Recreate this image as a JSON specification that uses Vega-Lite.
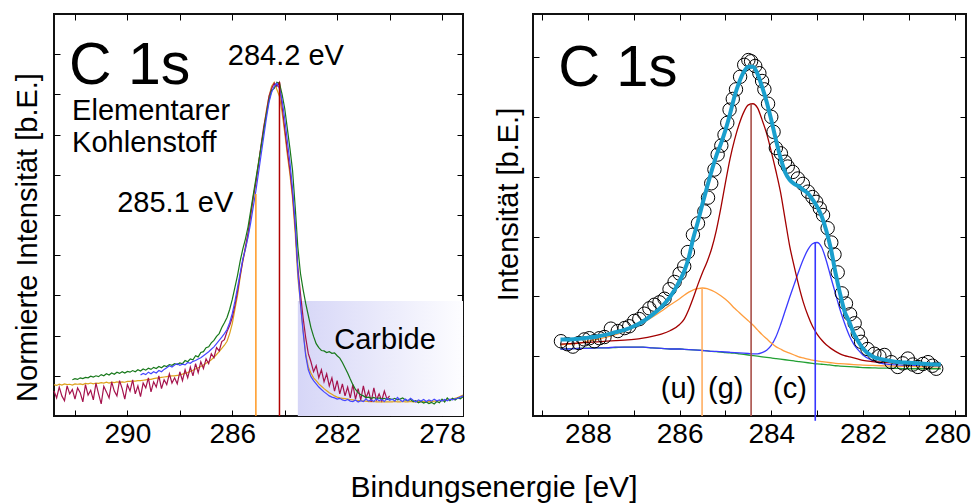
{
"$schema": "https://vega.github.io/schema/vega-lite/v6.json",
"padding": {"left": 12, "top": 12, "right": 0, "bottom": 0},
"title": {"text": "Bindungsenergie [eV]", "orient": "bottom", "anchor": "middle", "fontSize": 30, "fontWeight": "normal", "font": "Liberation Sans", "color": "#000", "offset": 24, "dx": 2},
"config": {
  "font": "Liberation Sans",
  "view": {"stroke": "#111", "strokeWidth": 2},
  "axis": {"domain": false, "grid": false, "tickColor": "#000", "tickSize": -6, "tickWidth": 1, "labelFontSize": 28, "labelColor": "#000", "labelFont": "Liberation Sans", "titleFontSize": 29, "titleFont": "Liberation Sans", "titleFontWeight": "normal", "titleColor": "#000", "labelPadding": 10, "labelFlush": false}
},
"spacing": 26,
"resolve": {"scale": {"color": "independent"}},
"hconcat": [
{
  "width": 409, "height": 402,
  "resolve": {"axis": {"x": "independent", "y": "independent"}},
  "layer": [
    {
      "data": {"values": [{"a": 283.5, "b": 277.2, "lo": 0, "hi": 2.86}]},
      "mark": {"type": "rect", "fill": {"gradient": "linear", "x1": 0, "y1": 0, "x2": 1, "y2": 0, "stops": [{"offset": 0, "color": "#d6d6f7"}, {"offset": 1, "color": "#fdfdff"}]}},
      "encoding": {
        "x": {"field": "a", "type": "quantitative", "scale": {"domain": [292.8, 277.2], "nice": false, "zero": false}, "axis": {"orient": "top", "values": [292, 290, 288, 286, 284, 282, 280, 278], "labels": false, "title": null}},
        "x2": {"field": "b"},
        "y": {"field": "lo", "type": "quantitative", "scale": {"domain": [0, 10], "nice": false}, "axis": {"orient": "right", "values": [1, 2, 3, 4, 5, 6, 7, 8, 9], "labels": false, "title": null}},
        "y2": {"field": "hi"}
      }
    },
    {
      "data": {"values": [
{"e":292.8,"Y":0.78,"R":0.62},{"e":292.7,"Y":0.76,"R":0.45},{"e":292.6,"Y":0.79,"R":0.72},{"e":292.5,"Y":0.77,"R":0.50},{"e":292.4,"Y":0.80,"R":0.38},{"e":292.3,"Y":0.78,"R":0.75},{"e":292.2,"Y":0.79,"R":0.55},
{"e":292.1,"Y":0.77,"R":0.66,"G":0.90},{"e":292.0,"Y":0.80,"R":0.42,"G":0.93},{"e":291.9,"Y":0.79,"R":0.70,"G":0.91},{"e":291.8,"Y":0.80,"R":0.58,"G":0.95},{"e":291.7,"Y":0.78,"R":0.35,"G":0.93},{"e":291.6,"Y":0.81,"R":0.78,"G":0.96},{"e":291.5,"Y":0.80,"R":0.52,"G":0.95},{"e":291.4,"Y":0.82,"R":0.64,"G":0.99},{"e":291.3,"Y":0.80,"R":0.40,"G":0.97},{"e":291.2,"Y":0.82,"R":0.82,"G":1.0},{"e":291.1,"Y":0.81,"R":0.55,"G":0.98},{"e":291.0,"Y":0.83,"R":0.30,"G":1.03},
{"e":290.9,"Y":0.82,"R":0.74,"G":1.0},{"e":290.8,"Y":0.84,"R":0.60,"G":1.05},{"e":290.7,"Y":0.82,"R":0.45,"G":1.02},{"e":290.6,"Y":0.84,"R":0.85,"G":1.07},{"e":290.5,"Y":0.83,"R":0.62,"G":1.04},{"e":290.4,"Y":0.85,"R":0.50,"G":1.09},{"e":290.3,"Y":0.84,"R":0.88,"G":1.06},{"e":290.2,"Y":0.85,"R":0.68,"G":1.1},{"e":290.1,"Y":0.84,"R":0.42,"G":1.07},{"e":290.0,"Y":0.86,"R":0.78,"G":1.11},
{"e":289.9,"Y":0.86,"R":0.62,"G":1.09},{"e":289.8,"Y":0.87,"R":0.90,"G":1.13},{"e":289.7,"Y":0.87,"R":0.55,"G":1.1},{"e":289.6,"Y":0.88,"R":0.75,"G":1.15},{"e":289.5,"Y":0.88,"R":0.48,"G":1.12,"B":1.02},{"e":289.4,"Y":0.89,"R":0.82,"G":1.17,"B":1.06},{"e":289.3,"Y":0.90,"R":0.70,"G":1.14,"B":1.03},{"e":289.2,"Y":0.91,"R":0.95,"G":1.19,"B":1.09},{"e":289.1,"Y":0.91,"R":0.60,"G":1.16,"B":1.05},{"e":289.0,"Y":0.93,"R":0.85,"G":1.21,"B":1.1},
{"e":288.9,"Y":0.94,"R":0.72,"G":1.18,"B":1.07},{"e":288.8,"Y":0.95,"R":1.0,"G":1.23,"B":1.13},{"e":288.7,"Y":0.96,"R":0.68,"G":1.2,"B":1.1},{"e":288.6,"Y":0.97,"R":0.90,"G":1.25,"B":1.16},{"e":288.5,"Y":0.98,"R":0.78,"G":1.23,"B":1.2},{"e":288.4,"Y":0.99,"R":1.05,"G":1.28,"B":1.25},{"e":288.3,"Y":1.0,"R":0.82,"G":1.26,"B":1.22},{"e":288.2,"Y":1.0,"R":0.95,"G":1.3,"B":1.27},{"e":288.1,"Y":1.01,"R":0.80,"G":1.28,"B":1.3},
{"e":288.0,"Y":1.02,"R":1.10,"G":1.32,"B":1.26},{"e":287.9,"Y":1.04,"R":0.88,"G":1.30,"B":1.29},{"e":287.8,"Y":1.06,"R":1.15,"G":1.38,"B":1.27},{"e":287.7,"Y":1.08,"R":0.95,"G":1.35,"B":1.33},{"e":287.6,"Y":1.11,"R":1.22,"G":1.42,"B":1.31},{"e":287.5,"Y":1.14,"R":1.0,"G":1.40,"B":1.36},{"e":287.4,"Y":1.17,"R":1.3,"G":1.5,"B":1.38},{"e":287.3,"Y":1.20,"R":1.08,"G":1.47,"B":1.42},{"e":287.2,"Y":1.23,"R":1.35,"G":1.58,"B":1.45},{"e":287.1,"Y":1.27,"R":1.18,"G":1.6,"B":1.5},
{"e":287.0,"Y":1.31,"R":1.42,"G":1.7,"B":1.55},{"e":286.9,"Y":1.35,"R":1.3,"G":1.72,"B":1.6},{"e":286.8,"Y":1.40,"R":1.55,"G":1.82,"B":1.66},{"e":286.7,"Y":1.46,"R":1.45,"G":1.88,"B":1.72},{"e":286.6,"Y":1.53,"R":1.7,"G":1.98,"B":1.8},{"e":286.5,"Y":1.60,"R":1.62,"G":2.05,"B":1.88},{"e":286.4,"Y":1.68,"R":1.85,"G":2.2,"B":1.96},{"e":286.3,"Y":1.76,"R":1.9,"G":2.32,"B":2.05},{"e":286.2,"Y":1.86,"R":2.1,"G":2.45,"B":2.15},{"e":286.1,"Y":2.05,"R":2.25,"G":2.65,"B":2.32},
{"e":286.0,"Y":2.3,"R":2.45,"G":2.9,"B":2.55},{"e":285.9,"Y":2.65,"R":2.75,"G":3.2,"B":2.85},{"e":285.8,"Y":3.0,"R":3.1,"G":3.5,"B":3.2},{"e":285.7,"Y":3.45,"R":3.5,"G":3.85,"B":3.55},{"e":285.6,"Y":3.85,"R":3.85,"G":4.15,"B":3.9},{"e":285.5,"Y":4.15,"R":4.2,"G":4.4,"B":4.15},{"e":285.4,"Y":4.48,"R":4.55,"G":4.7,"B":4.45},{"e":285.3,"Y":4.95,"R":5.0,"G":5.1,"B":4.8},{"e":285.2,"Y":5.4,"R":5.45,"G":5.5,"B":5.2},{"e":285.1,"Y":5.85,"R":5.8,"G":5.9,"B":5.6},
{"e":285.0,"Y":6.3,"R":6.25,"G":6.3,"B":6.05},{"e":284.9,"Y":6.7,"R":6.75,"G":6.7,"B":6.5},{"e":284.8,"Y":7.15,"R":7.2,"G":7.1,"B":6.95},{"e":284.7,"Y":7.6,"R":7.55,"G":7.5,"B":7.4},{"e":284.6,"Y":7.95,"R":7.95,"G":7.85,"B":7.8},{"e":284.5,"Y":8.2,"R":8.15,"G":8.1,"B":8.05},{"e":284.4,"Y":8.3,"R":8.28,"G":8.15,"B":8.2},{"e":284.3,"Y":8.12,"R":8.2,"G":8.3,"B":8.28},{"e":284.2,"Y":7.95,"R":8.3,"G":8.28,"B":8.15},{"e":284.1,"Y":7.55,"R":7.7,"G":8.0,"B":7.85},
{"e":284.0,"Y":7.05,"R":7.15,"G":7.65,"B":7.4},{"e":283.9,"Y":6.5,"R":6.6,"G":7.15,"B":6.85},{"e":283.8,"Y":6.0,"R":6.1,"G":6.65,"B":6.3},{"e":283.7,"Y":5.4,"R":5.5,"G":6.1,"B":5.65},{"e":283.6,"Y":4.55,"R":4.7,"G":5.2,"B":4.8},{"e":283.5,"Y":3.45,"R":3.7,"G":4.2,"B":3.6},{"e":283.4,"Y":2.8,"R":3.05,"G":3.55,"B":2.8},{"e":283.3,"Y":2.15,"R":2.45,"G":3.15,"B":2.1},{"e":283.2,"Y":1.55,"R":1.95,"G":2.8,"B":1.5},{"e":283.1,"Y":1.22,"R":1.55,"G":2.5,"B":1.15},
{"e":283.0,"Y":1.07,"R":1.35,"G":2.2,"B":0.98},{"e":282.9,"Y":0.95,"R":1.1,"G":1.98,"B":0.88},{"e":282.8,"Y":0.88,"R":1.25,"G":1.8,"B":0.8},{"e":282.7,"Y":0.8,"R":0.95,"G":1.7,"B":0.72},{"e":282.6,"Y":0.74,"R":1.15,"G":1.63,"B":0.66},{"e":282.5,"Y":0.68,"R":0.85,"G":1.62,"B":0.6},{"e":282.4,"Y":0.63,"R":1.05,"G":1.58,"B":0.55},{"e":282.3,"Y":0.58,"R":0.75,"G":1.6,"B":0.5},{"e":282.2,"Y":0.54,"R":0.95,"G":1.56,"B":0.47},{"e":282.1,"Y":0.5,"R":0.62,"G":1.57,"B":0.45},
{"e":282.0,"Y":0.47,"R":0.88,"G":1.5,"B":0.42},{"e":281.9,"Y":0.45,"R":0.55,"G":1.44,"B":0.44},{"e":281.8,"Y":0.44,"R":0.8,"G":1.33,"B":0.4},{"e":281.7,"Y":0.43,"R":0.5,"G":1.2,"B":0.38},{"e":281.6,"Y":0.42,"R":0.72,"G":1.07,"B":0.41},{"e":281.5,"Y":0.41,"R":0.45,"G":0.92,"B":0.37},{"e":281.4,"Y":0.4,"R":0.78,"G":0.78,"B":0.36},{"e":281.3,"Y":0.39,"R":0.42,"G":0.66,"B":0.4},{"e":281.2,"Y":0.38,"R":0.68,"G":0.58,"B":0.35},{"e":281.1,"Y":0.38,"R":0.4,"G":0.53,"B":0.38},
{"e":281.0,"Y":0.37,"R":0.75,"G":0.5,"B":0.36},{"e":280.9,"Y":0.37,"R":0.45,"G":0.46,"B":0.42},{"e":280.8,"Y":0.36,"R":0.62,"G":0.47,"B":0.37},{"e":280.7,"Y":0.36,"R":0.35,"G":0.44,"B":0.4},{"e":280.6,"Y":0.36,"R":0.7,"G":0.46,"B":0.36},{"e":280.5,"Y":0.35,"R":0.4,"G":0.43,"B":0.43},{"e":280.4,"Y":0.35,"R":0.55,"G":0.45,"B":0.38},{"e":280.3,"Y":0.35,"R":0.38,"G":0.42,"B":0.41},{"e":280.2,"Y":0.35,"R":0.62,"G":0.44,"B":0.36},{"e":280.1,"Y":0.35,"R":0.42,"G":0.41,"B":0.44},
{"e":280.0,"Y":0.35,"R":0.5,"G":0.43,"B":0.39},{"e":279.9,"Y":0.35,"G":0.41,"B":0.42},{"e":279.8,"Y":0.36,"G":0.44,"B":0.37},{"e":279.7,"Y":0.35,"G":0.4,"B":0.46},{"e":279.6,"Y":0.35,"G":0.42,"B":0.4},{"e":279.5,"Y":0.36,"G":0.45,"B":0.36},{"e":279.4,"Y":0.35,"G":0.4,"B":0.42},{"e":279.3,"Y":0.35,"G":0.38,"B":0.38},{"e":279.2,"Y":0.36,"G":0.41,"B":0.44},{"e":279.1,"Y":0.35,"G":0.36,"B":0.39},
{"e":279.0,"Y":0.35,"G":0.38,"B":0.35},{"e":278.9,"Y":0.36,"G":0.33,"B":0.4},{"e":278.8,"Y":0.35,"G":0.36,"B":0.37},{"e":278.7,"Y":0.36,"G":0.32,"B":0.41},{"e":278.6,"Y":0.35,"G":0.35,"B":0.36},{"e":278.5,"Y":0.36,"G":0.31,"B":0.4},{"e":278.4,"Y":0.36,"G":0.34,"B":0.37},{"e":278.3,"Y":0.37,"G":0.3,"B":0.42},{"e":278.2,"Y":0.37,"G":0.36,"B":0.38},{"e":278.1,"Y":0.38,"G":0.33,"B":0.4},
{"e":278.0,"Y":0.38,"G":0.42,"B":0.37},{"e":277.9,"Y":0.39,"G":0.35,"B":0.41},{"e":277.8,"Y":0.4,"G":0.45,"B":0.38},{"e":277.7,"Y":0.41,"G":0.38,"B":0.42},{"e":277.6,"Y":0.42,"G":0.44,"B":0.4},{"e":277.5,"Y":0.44,"G":0.4,"B":0.43},{"e":277.4,"Y":0.46,"G":0.45,"B":0.44},{"e":277.3,"Y":0.49,"G":0.43,"B":0.47},{"e":277.2,"Y":0.52,"G":0.48,"B":0.5}
      ]},
      "transform": [{"fold": ["B", "G", "Y", "R"], "as": ["s", "v"]}, {"filter": "isValid(datum.v)"}],
      "mark": {"type": "line", "strokeWidth": 1.2},
      "encoding": {
        "x": {"field": "e", "type": "quantitative", "axis": null},
        "y": {"field": "v", "type": "quantitative", "axis": null},
        "color": {"field": "s", "type": "nominal", "scale": {"domain": ["B", "G", "Y", "R", "v1", "v2"], "range": ["#4646ff", "#17781a", "#dda11c", "#a5124c", "#ff9922", "#b00000"]}, "legend": null},
        "order": {"field": "e", "type": "quantitative"}
      }
    },
    {
      "data": {"values": [{"e": 285.1, "lo": 0, "top": 5.52, "k": "v1"}, {"e": 284.2, "lo": 0, "top": 8.3, "k": "v2"}]},
      "mark": {"type": "rule", "strokeWidth": 1.5},
      "encoding": {
        "x": {"field": "e", "type": "quantitative", "axis": {"orient": "bottom", "values": [292, 290, 288, 286, 284, 282, 280, 278], "labelExpr": "datum.value % 4 == 2 ? datum.label : ''", "title": null}},
        "y": {"field": "lo", "type": "quantitative", "axis": {"orient": "left", "values": [1, 2, 3, 4, 5, 6, 7, 8, 9], "labels": false, "title": "Normierte Intensität [b.E.]", "titlePadding": 11, "titleY": 223}},
        "y2": {"field": "top"},
        "color": {"field": "k", "type": "nominal", "scale": {"domain": ["B", "G", "Y", "R", "v1", "v2"], "range": ["#4646ff", "#17781a", "#dda11c", "#a5124c", "#ff9922", "#b00000"]}, "legend": null}
      }
    },
    {
      "data": {"values": [{"x": 292.23, "y": 8.26, "t": "C 1s"}]},
      "mark": {"type": "text", "fontSize": 59, "align": "left", "baseline": "alphabetic", "color": "#000"},
      "encoding": {"x": {"field": "x", "type": "quantitative", "axis": null}, "y": {"field": "y", "type": "quantitative", "axis": null}, "text": {"field": "t"}}
    },
    {
      "data": {"values": [
        {"x": 286.17, "y": 8.73, "t": "284.2 eV"},
        {"x": 292.11, "y": 7.37, "t": "Elementarer"},
        {"x": 292.11, "y": 6.57, "t": "Kohlenstoff"},
        {"x": 290.39, "y": 5.07, "t": "285.1 eV"},
        {"x": 282.11, "y": 1.67, "t": "Carbide"}
      ]},
      "mark": {"type": "text", "fontSize": 29, "align": "left", "baseline": "alphabetic", "color": "#000"},
      "encoding": {"x": {"field": "x", "type": "quantitative", "axis": null}, "y": {"field": "y", "type": "quantitative", "axis": null}, "text": {"field": "t"}}
    }
  ]
},
{
  "width": 433, "height": 402,
  "resolve": {"axis": {"x": "independent", "y": "independent"}},
  "layer": [
    {
      "data": {"values": [
{"e":288.6,"bg":1.12,"c":1.12,"u":1.19,"g":1.2},{"e":288.4,"bg":1.125,"c":1.12,"u":1.2,"g":1.21},{"e":288.2,"bg":1.13,"c":1.13,"u":1.22,"g":1.22},{"e":288.0,"bg":1.135,"c":1.13,"u":1.25,"g":1.23},{"e":287.8,"bg":1.14,"c":1.14,"u":1.28,"g":1.24},{"e":287.6,"bg":1.14,"c":1.14,"u":1.32,"g":1.25},{"e":287.4,"bg":1.145,"c":1.15,"u":1.36,"g":1.26},{"e":287.2,"bg":1.15,"c":1.15,"u":1.42,"g":1.27},{"e":287.0,"bg":1.15,"c":1.15,"u":1.48,"g":1.28},{"e":286.8,"bg":1.15,"c":1.15,"u":1.56,"g":1.3},{"e":286.6,"bg":1.14,"c":1.14,"u":1.65,"g":1.33},{"e":286.4,"bg":1.13,"c":1.13,"u":1.75,"g":1.37},{"e":286.2,"bg":1.12,"c":1.12,"u":1.86,"g":1.43},
{"e":286.0,"bg":1.12,"c":1.12,"u":1.96,"g":1.53},{"e":285.9,"bg":1.115,"c":1.115,"u":2.02,"g":1.62},{"e":285.8,"bg":1.11,"c":1.11,"u":2.07,"g":1.78},{"e":285.7,"bg":1.105,"c":1.105,"u":2.11,"g":1.98},{"e":285.6,"bg":1.1,"c":1.1,"u":2.13,"g":2.2},{"e":285.5,"bg":1.095,"c":1.095,"u":2.14,"g":2.4},{"e":285.4,"bg":1.09,"c":1.09,"u":2.13,"g":2.58},{"e":285.3,"bg":1.08,"c":1.08,"u":2.1,"g":2.8},{"e":285.2,"bg":1.075,"c":1.08,"u":2.06,"g":3.1},{"e":285.1,"bg":1.07,"c":1.075,"u":2.01,"g":3.48},
{"e":285.0,"bg":1.06,"c":1.07,"u":1.95,"g":3.9},{"e":284.9,"bg":1.055,"c":1.065,"u":1.88,"g":4.3},{"e":284.8,"bg":1.05,"c":1.06,"u":1.8,"g":4.62},{"e":284.7,"bg":1.04,"c":1.055,"u":1.73,"g":4.88},{"e":284.6,"bg":1.03,"c":1.05,"u":1.66,"g":5.08},{"e":284.5,"bg":1.02,"c":1.045,"u":1.59,"g":5.2},{"e":284.4,"bg":1.01,"c":1.04,"u":1.52,"g":5.22},{"e":284.3,"bg":1.0,"c":1.04,"u":1.44,"g":5.15},{"e":284.2,"bg":0.99,"c":1.06,"u":1.36,"g":4.95},{"e":284.1,"bg":0.98,"c":1.1,"u":1.29,"g":4.72},
{"e":284.0,"bg":0.97,"c":1.18,"u":1.22,"g":4.42},{"e":283.9,"bg":0.96,"c":1.32,"u":1.16,"g":4.1},{"e":283.8,"bg":0.95,"c":1.52,"u":1.12,"g":3.75},{"e":283.7,"bg":0.94,"c":1.75,"u":1.08,"g":3.3},{"e":283.6,"bg":0.93,"c":1.98,"u":1.05,"g":2.85},{"e":283.5,"bg":0.92,"c":2.2,"u":1.02,"g":2.5},{"e":283.4,"bg":0.91,"c":2.42,"u":0.99,"g":2.18},{"e":283.3,"bg":0.9,"c":2.62,"u":0.97,"g":1.9},{"e":283.2,"bg":0.89,"c":2.78,"u":0.95,"g":1.68},{"e":283.1,"bg":0.88,"c":2.88,"u":0.935,"g":1.5},
{"e":283.0,"bg":0.87,"c":2.9,"u":0.92,"g":1.37},{"e":282.9,"bg":0.865,"c":2.82,"u":0.91,"g":1.27},{"e":282.8,"bg":0.86,"c":2.6,"u":0.9,"g":1.19},{"e":282.7,"bg":0.85,"c":2.32,"u":0.89,"g":1.13},{"e":282.6,"bg":0.84,"c":2.05,"u":0.88,"g":1.08},{"e":282.5,"bg":0.835,"c":1.78,"u":0.875,"g":1.04},{"e":282.4,"bg":0.83,"c":1.55,"u":0.87,"g":1.01},{"e":282.3,"bg":0.825,"c":1.35,"u":0.865,"g":0.99},{"e":282.2,"bg":0.82,"c":1.2,"u":0.86,"g":0.97},{"e":282.1,"bg":0.815,"c":1.1,"u":0.855,"g":0.95},
{"e":282.0,"bg":0.81,"c":1.02,"u":0.85,"g":0.93},{"e":281.8,"bg":0.805,"c":0.93,"u":0.845,"g":0.91},{"e":281.6,"bg":0.8,"c":0.88,"u":0.84,"g":0.9},{"e":281.4,"bg":0.8,"c":0.86,"u":0.835,"g":0.89},{"e":281.2,"bg":0.795,"c":0.85,"u":0.83,"g":0.88},{"e":281.0,"bg":0.79,"c":0.84,"u":0.83,"g":0.87},{"e":280.8,"bg":0.79,"c":0.84,"u":0.825,"g":0.865},{"e":280.6,"bg":0.79,"c":0.83,"u":0.82,"g":0.86},{"e":280.3,"bg":0.79,"c":0.83,"u":0.82,"g":0.85}
      ]},
      "transform": [{"fold": ["bg", "c", "u", "g"], "as": ["s", "v"]}],
      "mark": {"type": "line", "strokeWidth": 1.3, "interpolate": "monotone"},
      "encoding": {
        "x": {"field": "e", "type": "quantitative", "scale": {"domain": [289.2, 279.75], "nice": false, "zero": false}, "axis": {"orient": "top", "values": [289, 288, 287, 286, 285, 284, 283, 282, 281, 280], "labels": false, "title": null}},
        "y": {"field": "v", "type": "quantitative", "scale": {"domain": [0, 6.72], "nice": false}, "axis": {"orient": "right", "values": [1, 2, 3, 4, 5, 6], "labels": false, "title": null}},
        "color": {"field": "s", "type": "nominal", "scale": {"domain": ["bg", "c", "u", "g", "vu", "vg", "vc"], "range": ["#22a033", "#3a3aff", "#ff9d3d", "#a30000", "#ffae62", "#a84e48", "#3636ff"]}, "legend": null},
        "order": {"field": "e", "type": "quantitative"}
      }
    },
    {
      "data": {"values": [{"e": 285.51, "lo": 0, "top": 2.13, "k": "vu"}, {"e": 284.44, "lo": 0, "top": 5.22, "k": "vg"}, {"e": 283.04, "lo": -0.08, "top": 2.9, "k": "vc"}]},
      "mark": {"type": "rule", "strokeWidth": 1.6},
      "encoding": {
        "x": {"field": "e", "type": "quantitative", "axis": {"orient": "bottom", "values": [289, 288, 287, 286, 285, 284, 283, 282, 281, 280], "labelExpr": "datum.value % 2 == 0 ? datum.label : ''", "title": null, "labelFlush": 15, "labelFlushOffset": 16}},
        "y": {"field": "lo", "type": "quantitative", "axis": {"orient": "left", "values": [1, 2, 3, 4, 5, 6], "labels": false, "title": "Intensität [b.E.]", "titlePadding": 9, "titleY": 190}},
        "y2": {"field": "top"},
        "color": {"field": "k", "type": "nominal", "scale": {"domain": ["bg", "c", "u", "g", "vu", "vg", "vc"], "range": ["#22a033", "#3a3aff", "#ff9d3d", "#a30000", "#ffae62", "#a84e48", "#3636ff"]}, "legend": null}
      }
    },
    {
      "data": {"values": [
{"x":288.59,"y":1.25},{"x":288.45,"y":1.2},{"x":288.33,"y":1.16},{"x":288.2,"y":1.22},{"x":288.08,"y":1.28},{"x":287.97,"y":1.3},{"x":287.86,"y":1.25},{"x":287.75,"y":1.3},{"x":287.64,"y":1.32},{"x":287.5,"y":1.46},{"x":287.35,"y":1.42},{"x":287.2,"y":1.47},{"x":287.1,"y":1.5},{"x":286.99,"y":1.59},{"x":286.88,"y":1.62},{"x":286.77,"y":1.71},{"x":286.66,"y":1.8},{"x":286.55,"y":1.86},{"x":286.44,"y":1.9},{"x":286.33,"y":1.96},{"x":286.22,"y":2.12},{"x":286.11,"y":2.24},{"x":286.0,"y":2.38},{"x":285.9,"y":2.5},{"x":285.82,"y":2.74},{"x":285.71,"y":3.03},{"x":285.6,"y":3.22},{"x":285.46,"y":3.42},{"x":285.38,"y":3.65},{"x":285.31,"y":3.89},{"x":285.24,"y":4.12},{"x":285.17,"y":4.37},{"x":285.09,"y":4.52},{"x":285.02,"y":4.7},{"x":284.96,"y":4.9},{"x":284.91,"y":5.12},{"x":284.84,"y":5.3},{"x":284.77,"y":5.46},{"x":284.68,"y":5.67},{"x":284.59,"y":5.87},{"x":284.5,"y":5.95},{"x":284.44,"y":5.93},{"x":284.35,"y":5.85},{"x":284.26,"y":5.73},{"x":284.2,"y":5.6},{"x":284.15,"y":5.46},{"x":284.07,"y":5.22},{"x":284.0,"y":5.0},{"x":283.95,"y":4.75},{"x":283.9,"y":4.48},{"x":283.79,"y":4.39},{"x":283.7,"y":4.25},{"x":283.64,"y":4.17},{"x":283.53,"y":4.08},{"x":283.42,"y":3.97},{"x":283.31,"y":3.88},{"x":283.2,"y":3.75},{"x":283.1,"y":3.66},{"x":283.02,"y":3.58},{"x":282.94,"y":3.47},{"x":282.87,"y":3.36},{"x":282.77,"y":3.14},{"x":282.69,"y":2.9},{"x":282.62,"y":2.7},{"x":282.55,"y":2.4},{"x":282.46,"y":2.05},{"x":282.37,"y":1.88},{"x":282.28,"y":1.7},{"x":282.18,"y":1.55},{"x":282.11,"y":1.38},{"x":282.04,"y":1.24},{"x":281.9,"y":1.12},{"x":281.75,"y":1.04},{"x":281.64,"y":1.0},{"x":281.53,"y":1.02},{"x":281.38,"y":0.9},{"x":281.24,"y":0.82},{"x":281.13,"y":0.88},{"x":281.02,"y":0.96},{"x":280.91,"y":0.86},{"x":280.8,"y":0.82},{"x":280.69,"y":0.87},{"x":280.58,"y":0.9},{"x":280.48,"y":0.84},{"x":280.4,"y":0.79}
      ]},
      "mark": {"type": "point", "filled": false, "stroke": "#000", "strokeWidth": 1, "size": 180, "opacity": 1},
      "encoding": {"x": {"field": "x", "type": "quantitative", "axis": null}, "y": {"field": "y", "type": "quantitative", "axis": null}}
    },
    {
      "data": {"values": [
{"e":288.6,"f":1.28},{"e":288.4,"f":1.28},{"e":288.2,"f":1.29},{"e":288.0,"f":1.31},{"e":287.8,"f":1.33},{"e":287.6,"f":1.36},{"e":287.4,"f":1.4},{"e":287.2,"f":1.44},{"e":287.0,"f":1.5},{"e":286.8,"f":1.58},{"e":286.6,"f":1.69},{"e":286.4,"f":1.82},{"e":286.2,"f":2.0},{"e":286.0,"f":2.26},{"e":285.9,"f":2.42},{"e":285.8,"f":2.65},{"e":285.7,"f":2.98},{"e":285.6,"f":3.25},{"e":285.5,"f":3.55},{"e":285.4,"f":3.83},{"e":285.3,"f":4.1},{"e":285.2,"f":4.35},{"e":285.1,"f":4.55},{"e":285.0,"f":4.78},{"e":284.9,"f":5.05},{"e":284.8,"f":5.35},{"e":284.7,"f":5.58},{"e":284.6,"f":5.75},{"e":284.5,"f":5.84},{"e":284.4,"f":5.84},{"e":284.3,"f":5.72},{"e":284.2,"f":5.5},{"e":284.1,"f":5.25},{"e":284.0,"f":4.95},{"e":283.9,"f":4.62},{"e":283.8,"f":4.32},{"e":283.7,"f":4.08},{"e":283.6,"f":3.95},{"e":283.5,"f":3.88},{"e":283.4,"f":3.84},{"e":283.3,"f":3.78},{"e":283.2,"f":3.72},{"e":283.1,"f":3.62},{"e":283.0,"f":3.5},{"e":282.9,"f":3.34},{"e":282.8,"f":3.1},{"e":282.7,"f":2.8},{"e":282.6,"f":2.4},{"e":282.5,"f":2.05},{"e":282.4,"f":1.75},{"e":282.3,"f":1.58},{"e":282.2,"f":1.38},{"e":282.1,"f":1.24},{"e":282.0,"f":1.13},{"e":281.8,"f":1.0},{"e":281.6,"f":0.95},{"e":281.4,"f":0.92},{"e":281.2,"f":0.9},{"e":281.0,"f":0.89},{"e":280.8,"f":0.88},{"e":280.6,"f":0.87},{"e":280.3,"f":0.86}
      ]},
      "mark": {"type": "line", "strokeWidth": 4, "color": "#1a9fcd", "interpolate": "monotone"},
      "encoding": {"x": {"field": "e", "type": "quantitative", "axis": null}, "y": {"field": "f", "type": "quantitative", "axis": null}, "order": {"field": "e", "type": "quantitative"}}
    },
    {
      "data": {"values": [{"x": 288.65, "y": 5.51, "t": "C 1s"}]},
      "mark": {"type": "text", "fontSize": 58, "align": "left", "baseline": "alphabetic", "color": "#000"},
      "encoding": {"x": {"field": "x", "type": "quantitative", "axis": null}, "y": {"field": "y", "type": "quantitative", "axis": null}, "text": {"field": "t"}}
    },
    {
      "data": {"values": [{"x": 286.41, "y": 0.3, "t": "(u)"}, {"x": 285.38, "y": 0.3, "t": "(g)"}, {"x": 283.96, "y": 0.3, "t": "(c)"}]},
      "mark": {"type": "text", "fontSize": 29, "align": "left", "baseline": "alphabetic", "color": "#000"},
      "encoding": {"x": {"field": "x", "type": "quantitative", "axis": null}, "y": {"field": "y", "type": "quantitative", "axis": null}, "text": {"field": "t"}}
    }
  ]
}
]
}
